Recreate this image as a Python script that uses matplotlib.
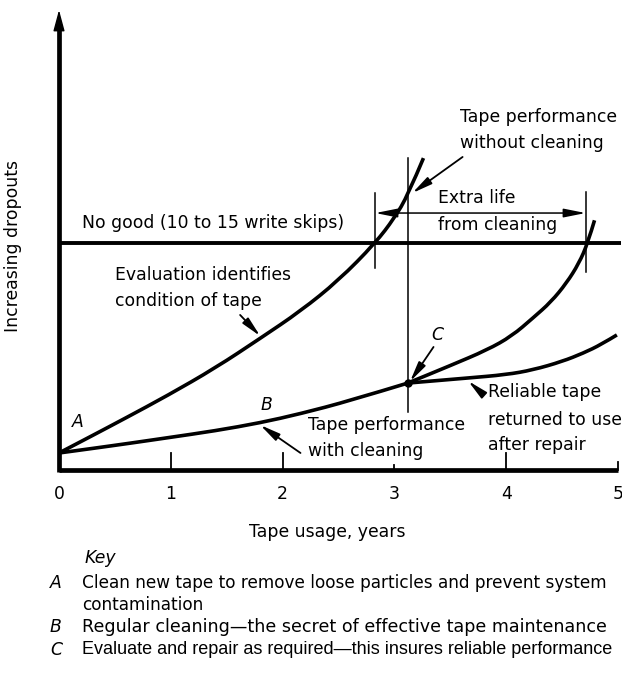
import matplotlib
matplotlib.use("Agg")
import matplotlib.pyplot as plt
from matplotlib.path import Path
from matplotlib.patches import PathPatch

# ---- data (years vs. relative dropout level; "no good" threshold = 10) ----
threshold = 10.0

uncleaned_x = [0.0, 0.3, 0.6, 0.97, 1.4, 1.8, 2.16, 2.5, 2.83, 3.0, 3.12, 3.26]
uncleaned_y = [0.75, 1.52, 2.30, 3.28, 4.50, 5.80, 7.00, 8.35, 10.0, 11.1, 12.1, 13.74]

cleaned_x = [0.0, 0.3, 0.635, 0.97, 1.4, 1.8, 2.16, 2.6, 3.12]
cleaned_y = [0.75, 0.95, 1.18, 1.42, 1.73, 2.08, 2.48, 3.05, 3.83]

worn_x = [3.12, 3.5, 3.83, 4.05, 4.24, 4.4, 4.54, 4.65, 4.73, 4.79]
worn_y = [3.83, 4.6, 5.29, 5.9, 6.7, 7.4, 8.24, 9.1, 10.0, 11.0]

repaired_x = [3.12, 3.65, 4.0, 4.24, 4.5, 4.69, 4.85, 4.99]
repaired_y = [3.83, 4.05, 4.2, 4.41, 4.78, 5.15, 5.53, 5.95]

eval_year = 3.12          # evaluation / repair point C
fail_uncleaned = 2.83     # uncleaned tape hits the threshold
fail_cleaned = 4.71       # cleaned tape hits the threshold

tick_years = [0, 1, 2, 3, 4, 5]
tick_labels = ["0", "1", "2", "3", "4", "5"]
tick_heights = [0.0, 0.75, 0.75, 0.2, 0.75, 0.35]

key_letters = ["A", "B", "C"]
key_texts = [
    "Clean new tape to remove loose particles and prevent system\ncontamination",
    "Regular cleaning\u2014the secret of effective tape maintenance",
    "Evaluate and repair as required\u2014this insures reliable performance",
]

# ---- figure ----
W, H = 622, 675
fig = plt.figure(figsize=(W / 100, H / 100), dpi=100)
fig.patch.set_facecolor("white")
plt.rcParams["font.family"] = ["DejaVu Sans"]
px_per_unit = 22.7
ax = fig.add_axes([59 / W, (H - 470) / H, 559 / W, 460 / H])
ax.set_xlim(0, 5)
ax.set_ylim(0, 460 / px_per_unit)
ax.axis("off")

FS = 12.4


def smooth_curve(xs, ys, lw=2.6):
    """Draw a smooth curve through the sample points using quadratic Bezier segments."""
    pts = list(zip(xs, ys))
    verts = [pts[0]]
    codes = [Path.MOVETO]
    if len(pts) > 2:
        mid = ((pts[0][0] + pts[1][0]) / 2, (pts[0][1] + pts[1][1]) / 2)
        verts.append(mid)
        codes.append(Path.LINETO)
        for i in range(1, len(pts) - 1):
            nxt = pts[i + 1] if i == len(pts) - 2 else (
                (pts[i][0] + pts[i + 1][0]) / 2, (pts[i][1] + pts[i + 1][1]) / 2)
            verts += [pts[i], nxt]
            codes += [Path.CURVE3, Path.CURVE3]
    else:
        verts.append(pts[1])
        codes.append(Path.LINETO)
    patch = PathPatch(Path(verts, codes), facecolor="none", edgecolor="black", lw=lw,
                      capstyle="butt", joinstyle="round", clip_on=False)
    ax.add_patch(patch)


# axes frame: x axis and y axis with arrow
ax.plot([0, 5], [0, 0], color="black", lw=3.4, solid_capstyle="butt", clip_on=False)
ax.plot([0, 0], [-0.08, 19.6], color="black", lw=3.4, solid_capstyle="butt", clip_on=False)
ax.annotate("", xy=(0, 460 / px_per_unit), xytext=(0, 19.0),
            arrowprops=dict(arrowstyle="-|>,head_length=1.3,head_width=0.35", lw=1,
                            color="black", shrinkA=0, shrinkB=0, mutation_scale=10),
            annotation_clip=False)

# ticks and tick labels
for x, lab, h in zip(tick_years, tick_labels, tick_heights):
    if h > 0:
        ax.plot([x, x], [0, h], color="black", lw=1.3, clip_on=False)
    ax.text(x, -1.06, lab, ha="center", va="center", fontsize=FS, clip_on=False)

# threshold line
ax.plot([0, 5.03], [threshold, threshold], color="black", lw=2.8, solid_capstyle="butt", clip_on=False)

# performance curves
smooth_curve(uncleaned_x, uncleaned_y)
smooth_curve(cleaned_x, cleaned_y)
smooth_curve(worn_x, worn_y)
smooth_curve(repaired_x, repaired_y)
ax.plot([eval_year], [cleaned_y[-1]], "o", color="black", ms=5, clip_on=False)

# evaluation line and extra-life bracket
ax.plot([eval_year, eval_year], [2.56, 13.74], color="black", lw=1.1, clip_on=False)
ax.plot([fail_uncleaned, fail_uncleaned], [8.9, 12.2], color="black", lw=1.1, clip_on=False)
ax.plot([fail_cleaned, fail_cleaned], [8.72, 12.25], color="black", lw=1.1, clip_on=False)
ax.annotate("", xy=(fail_cleaned, 11.32), xytext=(fail_uncleaned, 11.32),
            arrowprops=dict(arrowstyle="<|-|>,head_length=1.1,head_width=0.22", lw=1.1,
                            color="black", shrinkA=0, shrinkB=0, mutation_scale=12))

arrow_kw = dict(arrowstyle="-|>,head_length=1.0,head_width=0.2", lw=1.3, color="black",
                shrinkA=0, shrinkB=0, mutation_scale=12)


def pointer(tip, tail):
    ax.annotate("", xy=tip, xytext=tail, arrowprops=arrow_kw, annotation_clip=False)


# annotations
ax.text(3.59, 15.55, "Tape performance", fontsize=FS, va="center", ha="left")
ax.text(3.59, 14.4, "without cleaning", fontsize=FS, va="center", ha="left")
pointer((3.16, 12.2), (3.61, 13.79))

ax.text(3.39, 11.98, "Extra life", fontsize=FS, va="center", ha="left")
ax.text(3.39, 10.79, "from cleaning", fontsize=FS, va="center", ha="left")

ax.text(0.206, 10.88, "No good (10 to 15 write skips)", fontsize=FS, va="center", ha="left")

ax.text(0.5, 8.59, "Evaluation identifies", fontsize=FS, va="center", ha="left")
ax.text(0.5, 7.45, "condition of tape", fontsize=FS, va="center", ha="left")
pointer((1.80, 5.9), (1.62, 6.83))

ax.text(0.17, 2.11, "A", fontsize=FS, style="italic", va="center", ha="center")
ax.text(1.86, 2.86, "B", fontsize=FS, style="italic", va="center", ha="center")
pointer((1.80, 1.98), (2.16, 0.75))
ax.text(2.23, 1.98, "Tape performance", fontsize=FS, va="center", ha="left")
ax.text(2.23, 0.84, "with cleaning", fontsize=FS, va="center", ha="left")

ax.text(3.38, 5.95, "C", fontsize=FS, style="italic", va="center", ha="center")
pointer((3.14, 3.9), (3.35, 5.42))

ax.text(3.84, 3.44, "Reliable tape", fontsize=FS, va="center", ha="left")
ax.text(3.84, 2.20, "returned to use", fontsize=FS, va="center", ha="left")
ax.text(3.84, 1.10, "after repair", fontsize=FS, va="center", ha="left")
pointer((3.66, 3.92), (3.78, 3.39))

# axis titles
fig.text(13 / W, 1 - 246 / H, "Increasing dropouts", rotation=90, fontsize=FS, ha="center", va="center")
fig.text(327 / W, 1 - 532 / H, "Tape usage, years", fontsize=FS, ha="center", va="center")

# key
fig.text(85 / W, 1 - 558 / H, "Key", fontsize=FS, style="italic", ha="left", va="center")
rows = [583, 627, 650]
key_sizes = [12.2, 12.6, 13.0]
key_fonts = ["DejaVu Sans", "DejaVu Sans", "Liberation Sans"]
for letter, txt, row, ks, kf in zip(key_letters, key_texts, rows, key_sizes, key_fonts):
    fig.text(50 / W, 1 - row / H, letter, fontsize=FS, style="italic", ha="left", va="center")
    for i, line in enumerate(txt.split("\n")):
        fig.text(82 / W, 1 - (row + 22 * i) / H, line, fontsize=ks, family=kf,
                 ha="left", va="center")

fig.savefig("out.png", dpi=100, facecolor="white")
